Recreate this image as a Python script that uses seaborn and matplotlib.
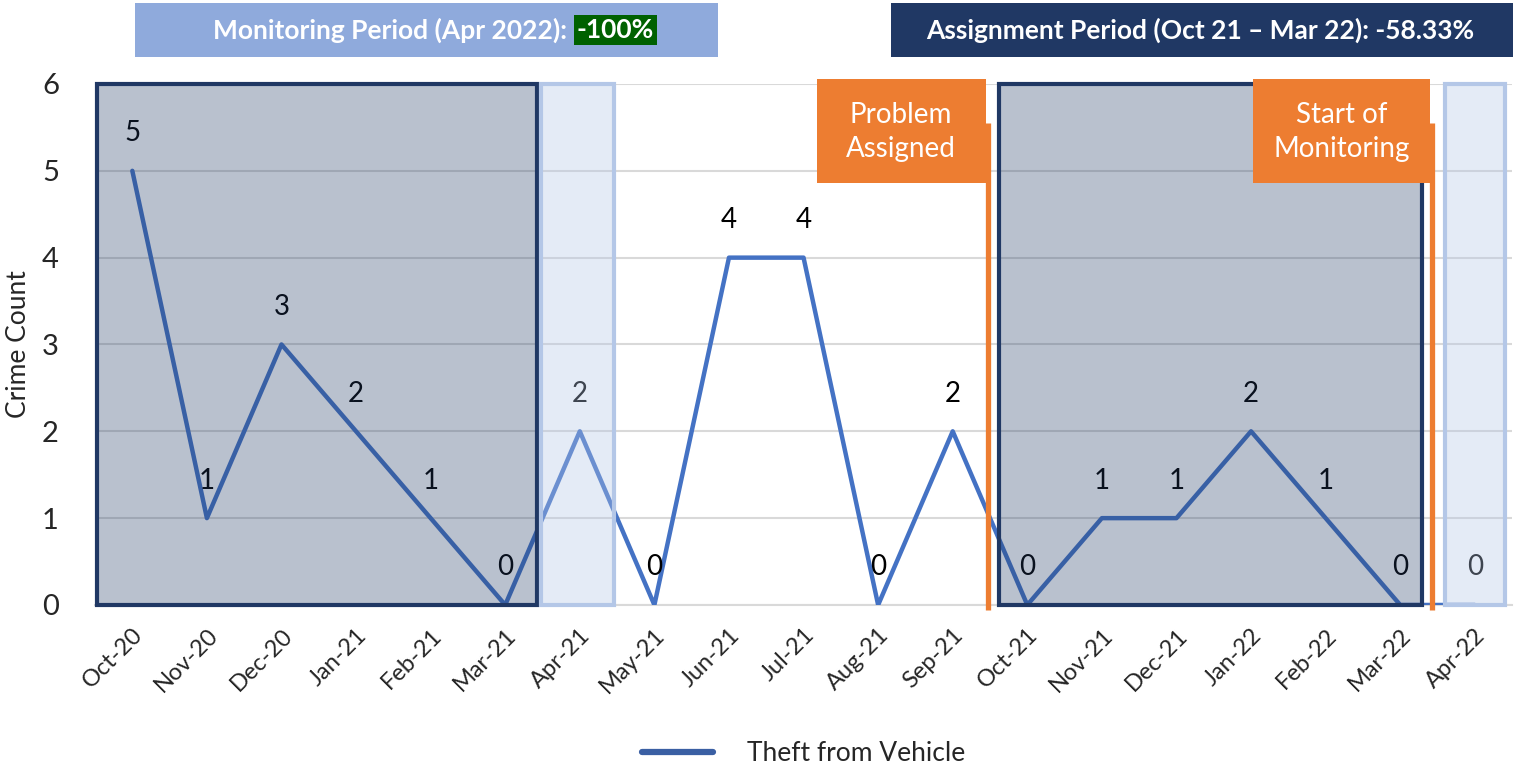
import pandas as pd
import numpy as np
import matplotlib.pyplot as plt
import matplotlib.patches as mpatches
import seaborn as sns

meses = ["Oct-20", "Nov-20", "Dec-20", "Jan-21", "Feb-21", "Mar-21", "Apr-21",
         "May-21", "Jun-21", "Jul-21", "Aug-21", "Sep-21", "Oct-21", "Nov-21",
         "Dec-21", "Jan-22", "Feb-22", "Mar-22", "Apr-22"]
robos = [5, 1, 3, 2, 1, 0, 2, 0, 4, 4, 0, 2, 0, 1, 1, 2, 1, 0, 0]
serie = "Theft from Vehicle"

banner_izq = "Monitoring Period (Apr 2022): "
banner_izq_valor = "-100%"
banner_der = "Assignment Period (Oct 21 \u2013 Mar 22): -58.33%"

df = pd.DataFrame({"mes": meses, "robos": robos})
df["pos"] = range(len(df))

sns.set_style("white")
plt.rcParams['font.family'] = ['Lato', 'DejaVu Sans']

fig = plt.figure(figsize=(15.18, 7.69), dpi=100)
ax = fig.add_axes([0.0626, 0.2133, 0.9335, 0.6775])

azul = "#4472C4"
navy = "#203864"
naranja = "#ED7D31"

sns.lineplot(data=df, x="pos", y="robos", ax=ax, color=azul, linewidth=3.2,
             label=serie, zorder=3)

for x, y in zip(df["pos"], df["robos"]):
	ax.annotate(str(y), (x, y), xytext=(0, 27), textcoords="offset points",
	            ha="center", va="center", fontsize=20, color="black", zorder=4)

ax.set_xlim(-0.5, len(meses) - 0.5)
ax.set_ylim(0, 6)
ax.set_yticks(range(0, 7))
ax.tick_params(axis="y", labelsize=21, length=0, pad=26)
ax.set_xticks(df["pos"])
ax.set_xticklabels(meses, rotation=45, ha="right", rotation_mode="anchor", fontsize=17)
ax.tick_params(axis="x", length=0, pad=14)
ax.set_xticks(np.arange(-0.5, len(meses)), minor=True)
ax.tick_params(axis="x", which="minor", length=7, color="#D9D9D9", width=1.5, direction="out")
ax.set_xlabel("")
ax.set_ylabel("Crime Count", fontsize=19, labelpad=8)
ax.grid(axis="y", color="#D9D9D9", linewidth=1.5, zorder=0)
ax.set_axisbelow(True)
for lado in ["top", "right", "left"]:
	ax.spines[lado].set_visible(False)
ax.spines["bottom"].set_color("#D9D9D9")
ax.spines["bottom"].set_linewidth(1.5)

# periodos sombreados
ax.add_patch(mpatches.Rectangle((-0.47, 0), 5.89, 6, facecolor=(0.125, 0.22, 0.39, 0.31),
                                edgecolor=navy, linewidth=3, zorder=5, clip_on=False))
ax.add_patch(mpatches.Rectangle((5.48, 0), 0.98, 6, facecolor=(0.706, 0.78, 0.906, 0.35),
                                edgecolor="#B4C7E7", linewidth=3, zorder=5, clip_on=False))
ax.add_patch(mpatches.Rectangle((11.62, 0), 5.67, 6, facecolor=(0.125, 0.22, 0.39, 0.31),
                                edgecolor=navy, linewidth=3, zorder=5, clip_on=False))
ax.add_patch(mpatches.Rectangle((17.6, 0), 0.81, 6, facecolor=(0.706, 0.78, 0.906, 0.35),
                                edgecolor="#B4C7E7", linewidth=3, zorder=5, clip_on=False))

# marcadores naranjas
for xl in [11.47, 17.42]:
	ax.plot([xl, xl], [-0.06, 5.55], color=naranja, linewidth=3.8, zorder=6,
	        clip_on=False, solid_capstyle="butt")
ax.add_patch(mpatches.Rectangle((9.18, 4.86), 2.27, 1.2, facecolor=naranja,
                                edgecolor="none", zorder=7, clip_on=False))
ax.text(10.3, 5.45, "Problem\nAssigned", ha="center", va="center", color="white",
        fontsize=20, linespacing=1.4, zorder=8)
ax.add_patch(mpatches.Rectangle((15.02, 4.86), 2.38, 1.2, facecolor=naranja,
                                edgecolor="none", zorder=7, clip_on=False))
ax.text(16.21, 5.45, "Start of\nMonitoring", ha="center", va="center", color="white",
        fontsize=20, linespacing=1.4, zorder=8)

# banners superiores
fig.patches.append(mpatches.Rectangle((135/1518, 1 - 57/769), 583/1518, 54/769,
                                      transform=fig.transFigure, facecolor="#8FAADC",
                                      edgecolor="none"))
fig.patches.append(mpatches.Rectangle((891/1518, 1 - 57/769), 622/1518, 54/769,
                                      transform=fig.transFigure, facecolor=navy,
                                      edgecolor="none"))
fig.text(573/1518, 1 - 30/769, banner_izq, ha="right", va="center", color="white",
         fontsize=19, fontweight="bold")
fig.text(577/1518, 1 - 30/769, banner_izq_valor, ha="left", va="center", color="white",
         fontsize=19, fontweight="bold",
         bbox=dict(boxstyle="square,pad=0.1", facecolor="#006100", edgecolor="none"))
fig.text(1200/1518, 1 - 30/769, banner_der, ha="center", va="center", color="white",
         fontsize=19, fontweight="bold")

leg = ax.legend(loc="upper center", bbox_to_anchor=(0.5, -0.215), frameon=False,
                fontsize=19, handlelength=2.7, handletextpad=1.3)
leg.get_lines()[0].set_color("#3A5FA3")
leg.get_lines()[0].set_linewidth(4.5)

fig.savefig("out.png", dpi=100)
